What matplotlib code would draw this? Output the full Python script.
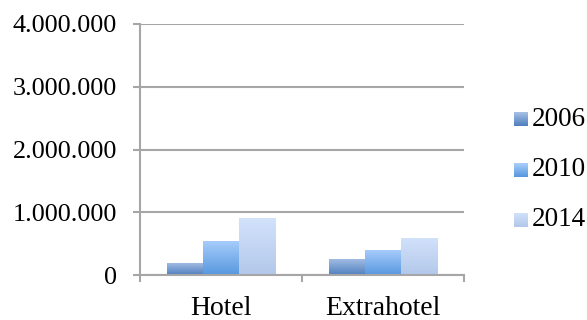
import numpy as np
import matplotlib
matplotlib.use("Agg")
import matplotlib.pyplot as plt
from matplotlib.colors import to_rgb

# data
categories = ["Hotel", "Extrahotel"]
years = ["2006", "2010", "2014"]
values_2006 = [195000, 258000]
values_2010 = [548000, 403000]
values_2014 = [903000, 597000]
yticks = [0, 1000000, 2000000, 3000000, 4000000]
ytick_labels = ["0", "1.000.000", "2.000.000", "3.000.000", "4.000.000"]

series = [values_2006, values_2010, values_2014]
# (top, bottom) gradient colours for each year
grads = [("#a6bfe5", "#5080bf"), ("#a9cdfb", "#5798df"), ("#d2e2fb", "#b3c8ea")]

plt.rcParams['font.family'] = ['Liberation Serif', 'DejaVu Serif']
grey = "#a6a6a6"


def gradient(i, n=64):
    top, bot = np.array(to_rgb(grads[i][0])), np.array(to_rgb(grads[i][1]))
    t = np.linspace(0, 1, n)[:, None]
    return (top * (1 - t) + bot * t)[:, None, :]


fig = plt.figure(figsize=(5.87, 3.2), dpi=100)
ax = fig.add_axes([140/587, 45/320, 324/587, 251/320])

x = np.arange(len(categories))
w = 0.223
for i, vals in enumerate(series):
    bars = ax.bar(x + (i - 1) * w, vals, w, color=grads[i][1], zorder=3, linewidth=0)
    for b in bars:
        im = ax.imshow(gradient(i), extent=[b.get_x(), b.get_x() + b.get_width(), 0, b.get_height()],
                       aspect='auto', origin='upper', zorder=4)
        im.set_clip_path(b)

ax.set_xlim(-0.5, 1.5)
ax.set_ylim(0, 4000000)
ax.set_yticks(yticks)
ax.set_yticklabels(ytick_labels)
ax.set_xticks(x)
ax.set_xticklabels(categories)
ax.set_xticks([-0.5, 0.5, 1.5], minor=True)
ax.tick_params(axis='x', which='major', length=0, pad=15, labelsize=20)
ax.tick_params(axis='x', which='minor', length=5, width=1.5, color=grey)
ax.tick_params(axis='y', length=5, width=1.5, color=grey, pad=11.5, labelsize=18.8)

ax.grid(axis='y', color=grey, linewidth=1.5, zorder=0)
for s in ['top', 'right']:
    ax.spines[s].set_visible(False)
for s in ['left', 'bottom']:
    ax.spines[s].set_color(grey)
    ax.spines[s].set_linewidth(1.5)
    ax.spines[s].set_zorder(5)

# legend drawn by hand: small gradient square + label
centers = [119, 170, 220]
for i, yr in enumerate(years):
    yc = 1 - centers[i] / 320
    lax = fig.add_axes([514/587, yc - 7/320, 14/587, 14/320])
    lax.imshow(gradient(i, 16), aspect='auto')
    lax.axis('off')
    fig.text(532/587, yc, yr, fontsize=19.5, va='center', ha='left')

plt.savefig("out.png", dpi=100)
print("successfully completed")
